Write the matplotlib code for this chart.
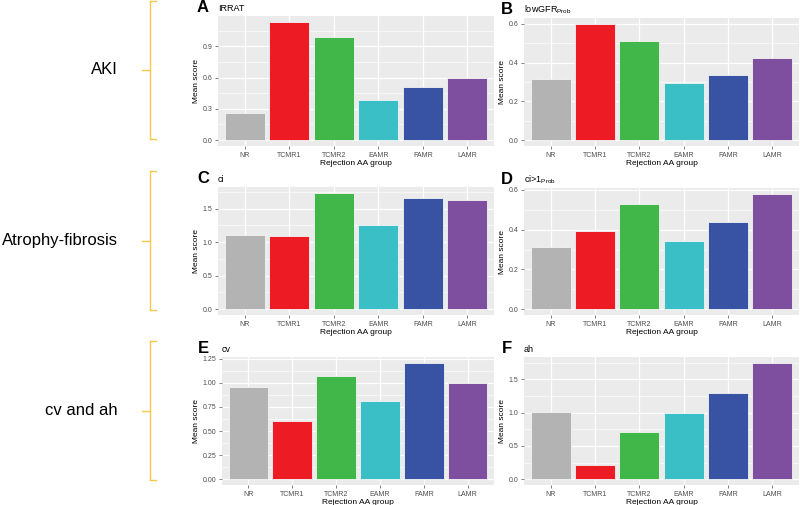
import matplotlib
matplotlib.use("Agg")
import matplotlib.pyplot as plt
from matplotlib.ticker import MultipleLocator

plt.rcParams['font.family'] = ['Liberation Sans', 'DejaVu Sans']
plt.rcParams['mathtext.fontset'] = 'custom'
plt.rcParams['mathtext.rm'] = 'Liberation Sans'

groups = ['NR', 'TCMR1', 'TCMR2', 'EAMR', 'FAMR', 'LAMR']
group_colors = ['#B3B3B3', '#ED1C24', '#41B649', '#3BBFC6', '#3853A4', '#7F4F9F']

irrat = [0.263, 1.135, 0.987, 0.386, 0.508, 0.595]
lowgfr_prob = [0.316, 0.600, 0.513, 0.297, 0.335, 0.425]
ci = [1.104, 1.099, 1.737, 1.262, 1.657, 1.623]
ci_gt1_prob = [0.311, 0.394, 0.528, 0.344, 0.438, 0.580]
cv = [0.956, 0.604, 1.069, 0.812, 1.209, 0.997]
ah = [1.010, 0.212, 0.702, 0.999, 1.300, 1.747]

panels = [
    ('A', 'IRRAT', irrat, 0.3),
    ('B', r'lowGFR$_{\mathrm{Prob}}$', lowgfr_prob, 0.2),
    ('C', 'ci', ci, 0.5),
    ('D', r'ci>1$_{\mathrm{Prob}}$', ci_gt1_prob, 0.2),
    ('E', 'cv', cv, 0.25),
    ('F', 'ah', ah, 0.5),
]
row_labels = ['AKI', 'Atrophy-fibrosis', 'cv and ah']

W, H = 800, 505
fig = plt.figure(figsize=(W / 100, H / 100), dpi=100)


def fx(px):
    return px / W


def fy(py):
    return 1 - py / H


# panel boxes in pixels: (left, top, right, bottom)
boxes = [
    (218, 16, 494, 146), (524, 18, 799, 146),
    (218, 187, 494, 315), (524, 188, 799, 315),
    (222, 357, 494, 485), (524, 357, 799, 485),
]
letter_x = [203, 507, 203, 507, 203, 507]

for k, (letter, title, vals, step) in enumerate(panels):
    x0, y0, x1, y1 = boxes[k]
    ax = fig.add_axes([fx(x0), fy(y1), fx(x1) - fx(x0), fy(y0) - fy(y1)])
    ax.set_facecolor('#EBEBEB')
    pos = list(range(1, len(groups) + 1))
    ax.bar(pos, vals, width=0.9, color=group_colors, edgecolor='#F4F4F4',
           linewidth=0.6, zorder=3)
    top = max(vals)
    ax.set_xlim(0.4, 6.6)
    ax.set_ylim(-0.05 * top, 1.05 * top)
    ax.yaxis.set_major_locator(MultipleLocator(step))
    ax.yaxis.set_minor_locator(MultipleLocator(step / 2))
    ax.set_xticks(pos)
    ax.set_xticklabels(groups)
    ax.grid(which='major', color='white', linewidth=0.9, zorder=0)
    ax.grid(which='minor', axis='y', color='white', linewidth=0.45, zorder=0)
    ax.set_axisbelow(True)
    for s in ax.spines.values():
        s.set_visible(False)
    ax.tick_params(axis='both', which='major', labelsize=5, colors='#4D4D4D',
                   length=2, width=0.5, pad=2)
    ax.tick_params(axis='both', which='minor', length=0)
    if step == 0.25:
        ax.yaxis.set_major_formatter(plt.FormatStrFormatter('%.2f'))
    else:
        ax.yaxis.set_major_formatter(plt.FormatStrFormatter('%.1f'))
    ax.set_ylabel('Mean score', fontsize=6, labelpad=2)
    ax.set_xlabel('Rejection AA group', fontsize=6, labelpad=1)
    fig.text(fx(x0), fy(y0 - 5), title, fontsize=6.5, ha='left', va='baseline')
    fig.text(fx(letter_x[k]), fy(y0 - 4), letter, fontsize=12,
             fontweight='bold', ha='center', va='baseline')

# left brackets with row labels
bracket_y = [(0.5, 139), (171, 310), (341, 480)]
for (b0, b1), label in zip(bracket_y, row_labels):
    mid = (b0 + b1) / 2
    kw = dict(color='#F7C948', linewidth=1.0, transform=fig.transFigure)
    fig.add_artist(plt.Line2D([fx(150), fx(150)], [fy(b0), fy(b1)], **kw))
    fig.add_artist(plt.Line2D([fx(150), fx(156)], [fy(b0), fy(b0)], **kw))
    fig.add_artist(plt.Line2D([fx(150), fx(156)], [fy(b1), fy(b1)], **kw))
    fig.add_artist(plt.Line2D([fx(142), fx(150)], [fy(mid), fy(mid)], **kw))
    fig.text(fx(118), fy(mid), label, fontsize=12, ha='right', va='center')

fig.savefig('out.png', dpi=100)
